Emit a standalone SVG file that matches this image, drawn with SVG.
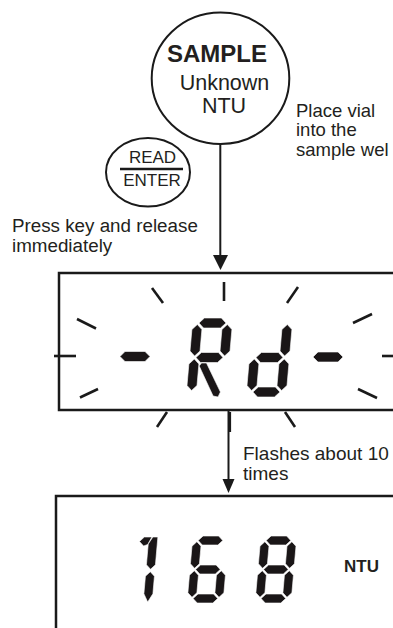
<svg xmlns="http://www.w3.org/2000/svg" width="393" height="628" viewBox="0 0 393 628">
<style>
.t{font-family:"Liberation Sans",Arial,sans-serif;fill:#231f20}
.b{font-weight:bold}
.ln{stroke:#1a1a1a;fill:none}
.seg{fill:#1a1617;stroke:#ffffff;stroke-width:0.6}
.ray{stroke:#1a1a1a;stroke-width:2.6;fill:none}
</style>
<rect width="393" height="628" fill="#ffffff"/>

<g id="sample">
<ellipse cx="220.5" cy="78.3" rx="68.8" ry="65.7" class="ln" stroke-width="2"/>
<text class="t b" x="217" y="62" font-size="24" text-anchor="middle">SAMPLE</text>
<text class="t" x="224.5" y="90" font-size="21.5" text-anchor="middle">Unknown</text>
<text class="t" x="224" y="113" font-size="21.5" text-anchor="middle">NTU</text>
</g>

<g id="place-note">
<text class="t" x="296" y="116.5" font-size="18.5">Place vial</text>
<text class="t" x="296" y="136" font-size="18.5">into the</text>
<text class="t" x="296" y="155.5" font-size="18.5">sample wel</text>
</g>

<g id="read-key">
<ellipse cx="148" cy="172.3" rx="42" ry="34.3" class="ln" stroke-width="2"/>
<text class="t" x="152.5" y="163" font-size="17" text-anchor="middle">READ</text>
<line x1="120" y1="169" x2="183" y2="169" class="ln" stroke-width="2.4"/>
<text class="t" x="152" y="185.5" font-size="17" text-anchor="middle">ENTER</text>
</g>

<g id="press-note">
<text class="t" x="12" y="232" font-size="18.8">Press key and release</text>
<text class="t" x="12" y="251.5" font-size="18.8">immediately</text>
</g>

<g id="display-rd">
<rect x="59" y="273" width="360" height="137" class="ln" stroke-width="2.5"/>
<g id="rays">
<line class="ray" x1="224" y1="282" x2="224" y2="301" stroke-width="3.4"/>
<line class="ray" x1="152" y1="288" x2="163" y2="303"/>
<line class="ray" x1="298" y1="287" x2="287" y2="303"/>
<line class="ray" x1="77" y1="319" x2="96" y2="328.5"/>
<line class="ray" x1="372" y1="314" x2="353" y2="323"/>
<line class="ray" x1="54" y1="356" x2="76" y2="356"/>
<line class="ray" x1="382" y1="356" x2="395" y2="356"/>
<line class="ray" x1="80" y1="397.5" x2="98" y2="389"/>
<line class="ray" x1="358" y1="389" x2="377" y2="398"/>
<line class="ray" x1="157" y1="427" x2="167" y2="412"/>
<line class="ray" x1="285" y1="412" x2="295" y2="427"/>
<line class="ray" x1="229.8" y1="412" x2="229.8" y2="432" stroke-width="3.4"/>
</g>
<polygon class="seg" points="120,356.5 125,351.5 145,351.5 150,356.5 145,361.5 125,361.5"/>
<polygon class="seg" points="313,357 318,352 338,352 343,357 338,362 318,362"/>
<g id="digit-R" class="seg" transform="translate(186,397) skewX(-5)">
<polygon points="6.5,-74 11.5,-79 28.5,-79 33.5,-74 28.5,-69 11.5,-69"/>
<polygon points="6.5,-39.5 11.5,-44.5 28.5,-44.5 33.5,-39.5 28.5,-34.5 11.5,-34.5"/>
<polygon points="5,-72.5 10,-67.5 10,-46 5,-41 0,-46 0,-67.5"/>
<polygon points="35,-72.5 40,-67.5 40,-46 35,-41 30,-46 30,-67.5"/>
<polygon points="5,-38 10,-33 10,-11.5 5,-6.5 0,-11.5 0,-33"/>
<polygon points="10.5,-31 12.5,-34 17.5,-34 34,-5 32,0 27,-1"/>
</g>
<g id="digit-d" class="seg" transform="translate(246,397) skewX(-5)">
<polygon points="6.5,-39.5 11.5,-44.5 28.5,-44.5 33.5,-39.5 28.5,-34.5 11.5,-34.5"/>
<polygon points="6.5,-5 11.5,-10 28.5,-10 33.5,-5 28.5,0 11.5,0"/>
<polygon points="35,-72.5 40,-67.5 40,-46 35,-41 30,-46 30,-67.5"/>
<polygon points="5,-38 10,-33 10,-11.5 5,-6.5 0,-11.5 0,-33"/>
<polygon points="35,-38 40,-33 40,-11.5 35,-6.5 30,-11.5 30,-33"/>
</g>
</g>

<g id="flash-note">
<text class="t" x="243" y="460" font-size="19">Flashes about 10</text>
<text class="t" x="243" y="480" font-size="19">times</text>
</g>

<g id="display-168">
<rect x="56" y="496" width="360" height="150" class="ln" stroke-width="2.5"/>
<g id="digit-1" class="seg" transform="translate(116,604) skewX(-5)">
<polygon points="18,-62.5 22.5,-67 30,-67 26.5,-59.5 22.5,-58"/>
<polygon points="31,-67 36,-67 36,-39.2 31.5,-34.7 27,-39.2 27,-60"/>
<polygon points="31.5,-32.3 36,-27.8 36,-10.2 31.5,-2 27,-10.2 27,-27.8"/>
</g>
<g id="digit-6" class="seg" transform="translate(187,603) skewX(-5)">
<polygon points="5.7,-62.5 10.2,-67 25.8,-67 30.3,-62.5 25.8,-58 10.2,-58"/>
<polygon points="5.7,-33.5 10.2,-38 25.8,-38 30.3,-33.5 25.8,-29 10.2,-29"/>
<polygon points="5.7,-4.5 10.2,-9 25.8,-9 30.3,-4.5 25.8,0 10.2,0"/>
<polygon points="4.5,-61.3 9,-56.8 9,-39.2 4.5,-34.7 0,-39.2 0,-56.8"/>
<polygon points="4.5,-32.3 9,-27.8 9,-10.2 4.5,-5.7 0,-10.2 0,-27.8"/>
<polygon points="31.5,-32.3 36,-27.8 36,-10.2 31.5,-5.7 27,-10.2 27,-27.8"/>
</g>
<g id="digit-8" class="seg" transform="translate(255,603) skewX(-5)">
<polygon points="5.7,-62.5 10.2,-67 25.8,-67 30.3,-62.5 25.8,-58 10.2,-58"/>
<polygon points="5.7,-33.5 10.2,-38 25.8,-38 30.3,-33.5 25.8,-29 10.2,-29"/>
<polygon points="5.7,-4.5 10.2,-9 25.8,-9 30.3,-4.5 25.8,0 10.2,0"/>
<polygon points="4.5,-61.3 9,-56.8 9,-39.2 4.5,-34.7 0,-39.2 0,-56.8"/>
<polygon points="31.5,-61.3 36,-56.8 36,-39.2 31.5,-34.7 27,-39.2 27,-56.8"/>
<polygon points="4.5,-32.3 9,-27.8 9,-10.2 4.5,-5.7 0,-10.2 0,-27.8"/>
<polygon points="31.5,-32.3 36,-27.8 36,-10.2 31.5,-5.7 27,-10.2 27,-27.8"/>
</g>
<text class="t b" x="344" y="572" font-size="17">NTU</text>
</g>

<g id="connectors">
<line x1="220.3" y1="144" x2="220.3" y2="258" class="ln" stroke-width="2"/>
<polygon points="213,255 228,255 220.5,270" fill="#1a1a1a"/>
<line x1="228.5" y1="410" x2="228.5" y2="482" class="ln" stroke-width="2"/>
<polygon points="222.5,479 234.5,479 228.5,493" fill="#1a1a1a"/>
</g>
</svg>
